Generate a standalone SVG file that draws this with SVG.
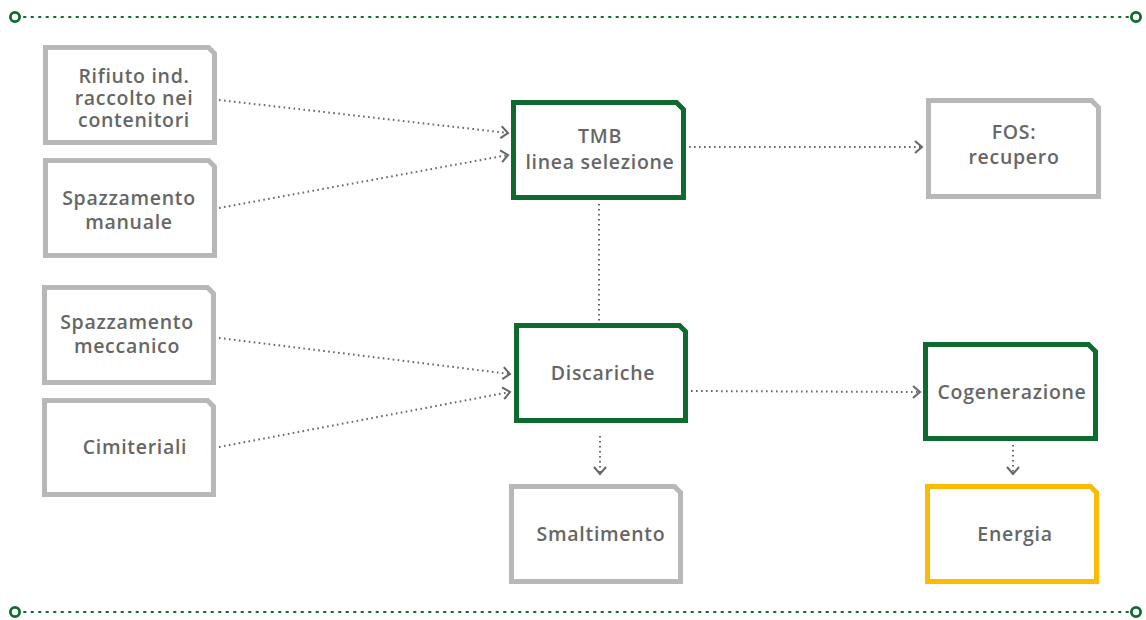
<svg xmlns="http://www.w3.org/2000/svg" width="1146" height="620" viewBox="0 0 1146 620">
  <defs>
    <style>
      .box { fill: #ffffff; stroke-width: 5; stroke-linejoin: miter; }
      .gray { stroke: #b8b8b8; }
      .green { stroke: #0e6a2f; }
      .yellow { stroke: #fbbb00; }
      .lbl { font-family: "Open Sans", Lato, "Liberation Sans", sans-serif; font-weight: 600; font-size: 19.5px; letter-spacing: 0.7px; fill: #666666; text-anchor: middle; }
      .conn { fill: none; stroke: #666666; stroke-width: 2; stroke-dasharray: 1.6 3.4; }
      .rule { fill: none; stroke: #0e6a2f; stroke-width: 2; stroke-dasharray: 1.5 6; stroke-linecap: round; }
      .dot { fill: #ffffff; stroke: #0e6a2f; stroke-width: 2.8; }
    </style>
    <marker id="chev" markerWidth="14" markerHeight="14" refX="10" refY="7" orient="auto" markerUnits="userSpaceOnUse">
      <path d="M3,1 L10,7 L3,13" fill="none" stroke="#666666" stroke-width="2"/>
    </marker>
  </defs>

  <!-- page rules -->
  <g id="rules">
    <line class="rule" x1="24" y1="17" x2="1129" y2="17"/>
    <circle class="dot" cx="15" cy="17" r="4.6"/>
    <circle class="dot" cx="1136" cy="17" r="4.6"/>
    <line class="rule" x1="24" y1="612" x2="1129" y2="612"/>
    <circle class="dot" cx="15" cy="612" r="4.6"/>
    <circle class="dot" cx="1136" cy="612" r="4.6"/>
  </g>

  <!-- connectors -->
  <g id="connectors">
    <line class="conn" x1="219" y1="100" x2="508" y2="133" marker-end="url(#chev)"/>
    <line class="conn" x1="219" y1="208" x2="508" y2="155" marker-end="url(#chev)"/>
    <line class="conn" x1="689" y1="147" x2="922" y2="147" marker-end="url(#chev)"/>
    <line class="conn" x1="599" y1="204" x2="599" y2="321"/>
    <line class="conn" x1="219" y1="338" x2="510" y2="374" marker-end="url(#chev)"/>
    <line class="conn" x1="219" y1="447" x2="510" y2="392" marker-end="url(#chev)"/>
    <line class="conn" x1="691" y1="391" x2="920" y2="392" marker-end="url(#chev)"/>
    <line class="conn" x1="600" y1="436" x2="600" y2="474" marker-end="url(#chev)"/>
    <line class="conn" x1="1013" y1="445" x2="1013" y2="474" marker-end="url(#chev)"/>
  </g>

  <!-- nodes: rect with clipped top-right corner -->
  <g id="rifiuto">
    <path class="box gray" d="M45.5,47.5 H208.5 L214.5,53.5 V142.5 H45.5 Z"/>
    <text class="lbl" x="134" y="83">Rifiuto ind.</text>
    <text class="lbl" x="134" y="105">raccolto nei</text>
    <text class="lbl" x="134" y="127">contenitori</text>
  </g>
  <g id="spazzamento-manuale">
    <path class="box gray" d="M45.5,160.5 H208.5 L214.5,166.5 V255.5 H45.5 Z"/>
    <text class="lbl" x="129" y="205">Spazzamento</text>
    <text class="lbl" x="129" y="229">manuale</text>
  </g>
  <g id="spazzamento-meccanico">
    <path class="box gray" d="M44.5,287.5 H207.5 L213.5,293.5 V382.5 H44.5 Z"/>
    <text class="lbl" x="127" y="329">Spazzamento</text>
    <text class="lbl" x="127" y="353">meccanico</text>
  </g>
  <g id="cimiteriali">
    <path class="box gray" d="M44.5,400.5 H207.5 L213.5,406.5 V494.5 H44.5 Z"/>
    <text class="lbl" x="135" y="454">Cimiteriali</text>
  </g>
  <g id="tmb">
    <path class="box green" d="M513.5,102.5 H676.5 L683.5,109.5 V197.5 H513.5 Z"/>
    <text class="lbl" x="600" y="143">TMB</text>
    <text class="lbl" x="600" y="169">linea selezione</text>
  </g>
  <g id="fos">
    <path class="box gray" d="M928.5,100.5 H1091.5 L1098.5,107.5 V196.5 H928.5 Z"/>
    <text class="lbl" x="1014" y="139">FOS:</text>
    <text class="lbl" x="1014" y="164">recupero</text>
  </g>
  <g id="discariche">
    <path class="box green" d="M516.5,325.5 H679.5 L685.5,331.5 V420.5 H516.5 Z"/>
    <text class="lbl" x="603" y="380">Discariche</text>
  </g>
  <g id="smaltimento">
    <path class="box gray" d="M511.5,486.5 H674.5 L680.5,492.5 V581.5 H511.5 Z"/>
    <text class="lbl" x="601" y="541">Smaltimento</text>
  </g>
  <g id="cogenerazione">
    <path class="box green" d="M925.5,344.5 H1088.5 L1095.5,351.5 V438.5 H925.5 Z"/>
    <text class="lbl" x="1012" y="399">Cogenerazione</text>
  </g>
  <g id="energia">
    <path class="box yellow" d="M927.5,486.5 H1090.5 L1096.5,492.5 V581.5 H927.5 Z"/>
    <text class="lbl" x="1015" y="541">Energia</text>
  </g>
</svg>
